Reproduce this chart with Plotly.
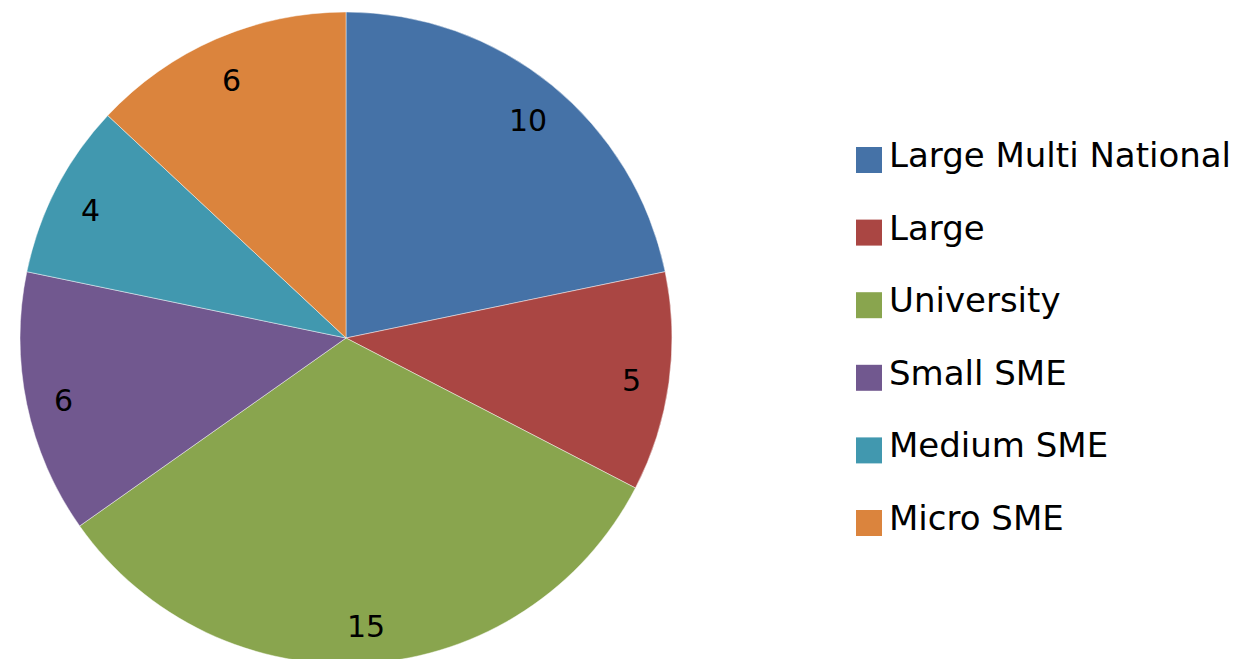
import math
import plotly.graph_objects as go

categories = ["Large Multi National", "Large", "University", "Small SME", "Medium SME", "Micro SME"]
values = [10, 5, 15, 6, 4, 6]
colors = ["#4572A7", "#AA4643", "#89A54E", "#71588F", "#4198AF", "#DB843D"]

W, H = 1244, 664
cx_px, cy_px, r_px = 346, 338, 326
FONT = "DejaVu Sans"

fig = go.Figure()
fig.add_trace(go.Pie(
    labels=categories, values=values, sort=False, direction="clockwise", rotation=0,
    marker=dict(colors=colors, line=dict(color="rgba(255,255,255,0.45)", width=1)),
    textinfo="none", hoverinfo="label+value", showlegend=False,
    domain=dict(x=[(cx_px - r_px) / W, (cx_px + r_px) / W],
                y=[(H - (cy_px + r_px)) / H, (H - (cy_px - r_px)) / H]),
))

annotations = []
total = sum(values)
cum = 0
for v in values:
    mid = (cum + v / 2) / total * 2 * math.pi
    cum += v
    f = 0.875
    dx = f * r_px * math.sin(mid) * 1.01
    dy = f * r_px * math.cos(mid) - 4
    annotations.append(dict(x=(cx_px + dx) / W, y=(H - cy_px + dy) / H, xref="paper", yref="paper",
                            text=str(v), showarrow=False, xanchor="center", yanchor="middle",
                            font=dict(family=FONT, size=30, color="black")))

shapes = []
leg_x0, leg_y0, leg_step, sq = 856, 160, 72.6, 26
for i, (name, c) in enumerate(zip(categories, colors)):
    yc = leg_y0 + i * leg_step
    shapes.append(dict(type="rect", xref="paper", yref="paper",
                       x0=leg_x0 / W, x1=(leg_x0 + sq) / W,
                       y0=(H - (yc + sq / 2)) / H, y1=(H - (yc - sq / 2)) / H,
                       fillcolor=c, line=dict(width=0)))
    annotations.append(dict(x=887 / W, y=(H - yc + 5) / H, xref="paper", yref="paper",
                            text=name, showarrow=False, xanchor="left", yanchor="middle",
                            font=dict(family=FONT, size=34, color="black")))

fig.update_layout(width=W, height=H, margin=dict(l=0, r=0, t=0, b=0),
                  paper_bgcolor="white", plot_bgcolor="white",
                  annotations=annotations, shapes=shapes)
fig.write_html("out.html", config={"displayModeBar": False},
               post_script="document.body.style.margin='0px';document.body.style.overflow='hidden';")
